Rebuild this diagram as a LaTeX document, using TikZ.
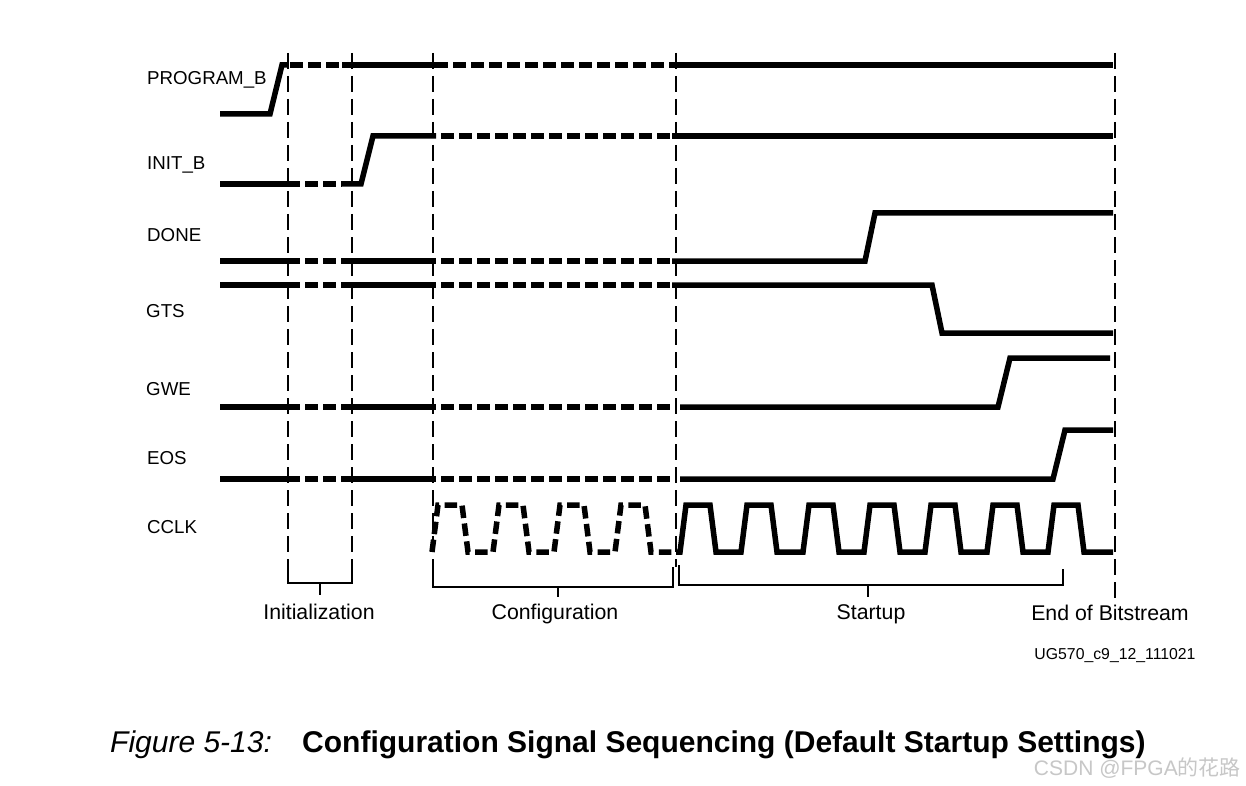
\documentclass[tikz,border=0pt]{standalone}
\usepackage{fontspec}
\setmainfont{Liberation Sans}
\newfontfamily\cjkfont{Noto Sans CJK SC}
\begin{document}
\begin{tikzpicture}[x=1pt,y=-1pt,
  sig/.style={line width=5.5pt},
  dsig/.style={line width=5.5pt,dash pattern=on 12.5pt off 5.5pt},
  vdash/.style={line width=2pt,dash pattern=on 16pt off 7pt},
  brk/.style={line width=2pt},
  siglabel/.style={anchor=west,inner sep=0pt,font=\fontsize{18.7}{22}\selectfont},
  phase/.style={anchor=base,inner sep=0pt,font=\fontsize{21.3}{25}\selectfont},
]
\useasboundingbox[fill=white] (0,0) rectangle (1246,786);

% signal labels
\node[siglabel] (lprog) at (147,80) {PROGRAM\_B};
\node[siglabel] (linit) at (147,165) {INIT\_B};
\node[siglabel] (ldone) at (147,235) {DONE};
\node[siglabel] (lgts)  at (146,311) {GTS};
\node[siglabel] (lgwe)  at (146,389) {GWE};
\node[siglabel] (leos)  at (147,458) {EOS};
\node[siglabel] (lcclk) at (147,527) {CCLK};

% vertical dashed markers
\foreach \xx in {288,352,433,676} \draw[vdash] (\xx,53) -- (\xx,567);
\draw[vdash] (1115,53) -- (1115,598);

% PROGRAM_B
\draw[sig] (220,114) -- (270,114) -- (282,65) -- (288,65);
\draw[dsig] (290,65) -- (342,65);
\draw[sig] (342,65) -- (448,65);
\draw[dsig] (453,65) -- (672,65);
\draw[sig] (672,65) -- (1113,65);

% INIT_B
\draw[sig] (220,184) -- (300,184);
\draw[dsig] (305,184) -- (342,184);
\draw[sig] (342,184) -- (361,184) -- (373,136) -- (436,136);
\draw[dsig] (441,136) -- (672,136);
\draw[sig] (672,136) -- (1113,136);

% common beginnings for DONE, GTS, GWE, EOS
\foreach \yy in {261,285,407,479} {
  \draw[sig] (220,\yy) -- (300,\yy);
  \draw[dsig] (305,\yy) -- (342,\yy);
  \draw[sig] (342,\yy) -- (436,\yy);
  \draw[dsig] (441,\yy) -- (672,\yy);
}
% DONE
\draw[sig] (672,261) -- (865,261) -- (875,213) -- (1113,213);
% GTS
\draw[sig] (672,285) -- (932,285) -- (942,333) -- (1113,333);
% GWE
\draw[sig] (680,407) -- (998,407) -- (1010,358) -- (1110,358);
% EOS
\draw[sig] (680,479) -- (1053,479) -- (1065,430) -- (1113,430);

% CCLK dashed (configuration)
\draw[dsig] (432,552) -- (438,505) -- (462,505) -- (468,552)
  -- (493,552) -- (499,505) -- (523,505) -- (529,552)
  -- (554,552) -- (560,505) -- (584,505) -- (590,552)
  -- (615,552) -- (621,505) -- (645,505) -- (651,552)
  -- (676,552);
% CCLK solid (startup)
\draw[sig] (676,552)
  \foreach \s in {680,741,803,864,925,987,1048} { -- (\s,552) -- (\s+6,505) -- (\s+30,505) -- (\s+36,552) }
  -- (1113,552);

% brackets
\draw[brk] (288,567) -- (288,583) -- (352,583) -- (352,567);
\draw[brk] (320,583) -- (320,595);
\draw[brk] (433,567) -- (433,587) -- (673,587) -- (673,567);
\draw[brk] (558,587) -- (558,597);
\draw[brk] (679,565) -- (679,585) -- (1063,585) -- (1063,569);
\draw[brk] (868,585) -- (868,597);

% phase labels
\node[phase] (pinit) at (319,619) {Initialization};
\node[phase] (pconf) at (555,619) {Configuration};
\node[phase] (pstart) at (871,619) {Startup};
\node[phase] (pend) at (1110,620) {End of Bitstream};
\node[anchor=base,inner sep=0pt,font=\fontsize{15.8}{19}\selectfont] (ug) at (1115,659) {UG570\_c9\_12\_111021};

% caption
\node[anchor=base west,inner sep=0pt,font=\fontsize{30}{36}\selectfont\itshape] (figno) at (110,752) {Figure 5-13:};
\node[anchor=base west,inner sep=0pt,font=\fontsize{30}{36}\selectfont\bfseries] (figtitle) at (302,752) {Configuration Signal Sequencing (Default Startup Settings)};

% watermark
\node[anchor=base east,inner sep=0pt,text=black!22,font=\fontsize{21}{24}\selectfont] (wm) at (1241,775) {CSDN @FPGA{\cjkfont 的花路}};
\end{tikzpicture}
\end{document}
